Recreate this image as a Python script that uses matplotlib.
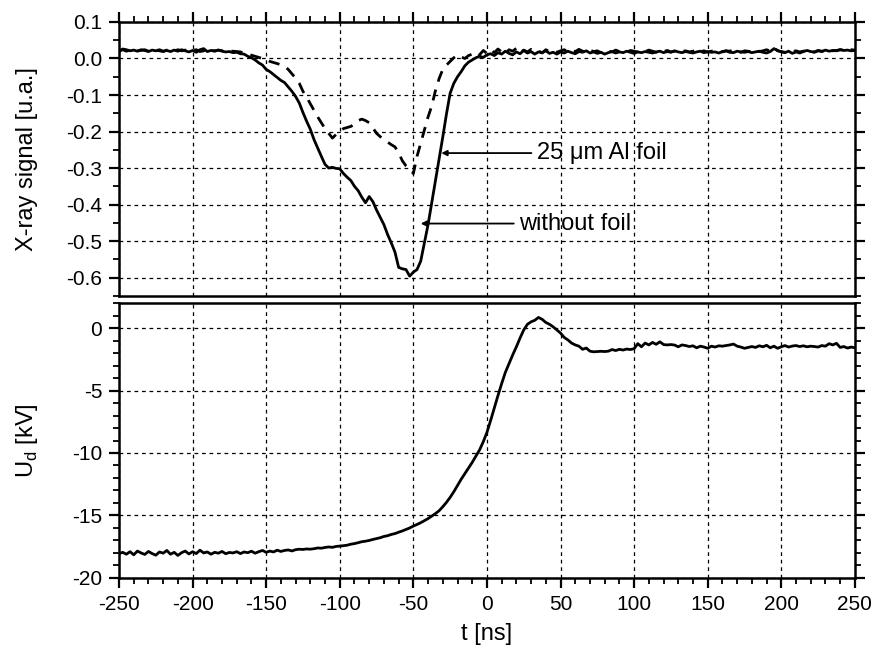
import numpy as np
import matplotlib
matplotlib.use('Agg')
import matplotlib.pyplot as plt
from matplotlib.ticker import MultipleLocator

plt.rcParams['font.family'] = ['Liberation Sans', 'DejaVu Sans']
plt.rcParams['mathtext.fontset'] = 'custom'
plt.rcParams['mathtext.rm'] = 'Liberation Sans'
plt.rcParams['axes.unicode_minus'] = False

t = np.arange(-250, 250.01, 2.5)

# X-ray signal without foil [u.a.]
xray_nofoil = [
    0.018, 0.026, 0.024, 0.021, 0.023, 0.020, 0.024, 0.022, 0.019, 0.023,
    0.021, 0.024, 0.020, 0.022, 0.019, 0.023, 0.020, 0.024, 0.021, 0.018,
    0.022, 0.017, 0.024, 0.027, 0.019, 0.022, 0.021, 0.023, 0.020, 0.018,
    0.019,
    0.016, 0.017, 0.013, 0.012, 0.006, 0.002, -0.004, -0.012, -0.018, -0.030,
    -0.036, -0.044, -0.052, -0.060, -0.066, -0.078, -0.090, -0.104, -0.122, -0.148,
    -0.172, -0.194, -0.222, -0.245, -0.268, -0.290, -0.300, -0.298, -0.301, -0.302,
    -0.315, -0.325, -0.334, -0.350, -0.362, -0.380, -0.395, -0.378, -0.392, -0.415,
    -0.435, -0.455, -0.482, -0.505, -0.530, -0.572, -0.576, -0.578, -0.596, -0.585,
    -0.578, -0.555, -0.505, -0.455, -0.395, -0.335, -0.275, -0.215, -0.152, -0.095,
    -0.068, -0.050, -0.036, -0.020, -0.010, -0.004, 0.002, 0.006, 0.003, 0.010,
    0.013, 0.008, 0.016, 0.012, 0.020, 0.014, 0.010, 0.018, 0.013, 0.022,
    0.015, 0.019, 0.012, 0.018, 0.016, 0.021, 0.014, 0.017, 0.012, 0.018,
    0.015, 0.020, 0.016, 0.013, 0.019, 0.017, 0.021, 0.015, 0.018, 0.014,
    0.017, 0.012, 0.016, 0.019, 0.015, 0.018, 0.016, 0.020, 0.017, 0.014,
    0.018, 0.016, 0.019, 0.017, 0.015, 0.018, 0.020, 0.016, 0.019, 0.017,
    0.021, 0.018, 0.016, 0.019, 0.017, 0.015, 0.018, 0.020, 0.016, 0.019,
    0.017, 0.018, 0.015, 0.019, 0.021, 0.017, 0.016, 0.020, 0.018, 0.017,
    0.019, 0.016, 0.018, 0.020, 0.017, 0.015, 0.019, 0.027, 0.022, 0.018,
    0.016, 0.020, 0.014, 0.018, 0.015, 0.019, 0.022, 0.019, 0.017, 0.021,
    0.019, 0.023, 0.020, 0.022, 0.021, 0.024, 0.022, 0.023, 0.021, 0.022,
]

# X-ray signal behind 25 um Al foil [u.a.]
xray_foil = [
    0.022, 0.024, 0.020, 0.023, 0.025, 0.021, 0.022, 0.024, 0.020, 0.022,
    0.023, 0.021, 0.019, 0.023, 0.022, 0.020, 0.024, 0.021, 0.023, 0.020,
    0.022, 0.024, 0.019, 0.021, 0.026, 0.022, 0.020, 0.023, 0.021, 0.022,
    0.020,
    0.020, 0.019, 0.018, 0.015, 0.012, 0.009, 0.006, 0.003, 0.000, -0.004,
    -0.008, -0.011, -0.014, -0.017, -0.021, -0.030, -0.042, -0.054, -0.068, -0.090,
    -0.106, -0.124, -0.142, -0.160, -0.176, -0.192, -0.205, -0.218, -0.208, -0.198,
    -0.192, -0.189, -0.186, -0.180, -0.170, -0.166, -0.170, -0.176, -0.190, -0.205,
    -0.214, -0.222, -0.229, -0.236, -0.242, -0.258, -0.280, -0.294, -0.303, -0.315,
    -0.268, -0.232, -0.196, -0.160, -0.130, -0.088, -0.055, -0.030, -0.018, -0.008,
    0.002, 0.010, 0.004, 0.000, 0.008, 0.012, 0.018, 0.010, 0.022, 0.014,
    0.024, 0.016, 0.026, 0.018, 0.012, 0.024, 0.020, 0.028, 0.016, 0.023,
    0.018, 0.025, 0.019, 0.021, 0.015, 0.024, 0.019, 0.022, 0.017, 0.021,
    0.024, 0.018, 0.022, 0.019, 0.025, 0.020, 0.017, 0.023, 0.019, 0.021,
    0.016, 0.022, 0.020, 0.018, 0.023, 0.019, 0.021, 0.017, 0.022, 0.020,
    0.018, 0.021, 0.019, 0.023, 0.020, 0.017, 0.021, 0.019, 0.022, 0.018,
    0.020, 0.022, 0.019, 0.021, 0.018, 0.020, 0.023, 0.019, 0.021, 0.017,
    0.020, 0.022, 0.019, 0.018, 0.021, 0.020, 0.023, 0.019, 0.017, 0.021,
    0.020, 0.018, 0.022, 0.019, 0.021, 0.024, 0.020, 0.029, 0.021, 0.019,
    0.017, 0.015, 0.019, 0.021, 0.018, 0.020, 0.023, 0.020, 0.018, 0.022,
    0.020, 0.021, 0.023, 0.021, 0.022, 0.024, 0.023, 0.022, 0.024, 0.023,
]

# discharge voltage U_d [kV]
u_d = [
    -18.05, -17.95, -18.10, -17.90, -18.15, -17.85, -18.00, -18.12, -17.88, -18.05,
    -18.18, -17.92, -18.02, -17.80, -18.10, -17.95, -18.20, -17.98, -17.85, -18.08,
    -17.90, -18.05, -17.78, -18.00, -17.92, -18.10, -17.95, -18.02, -17.88, -18.06,
    -17.96,
    -18.00, -17.90, -18.05, -17.92, -17.98, -17.86, -18.02, -17.90, -17.80, -17.95,
    -17.85, -17.92, -17.78, -17.88, -17.80, -17.76, -17.84, -17.74, -17.70, -17.72,
    -17.68, -17.70, -17.66, -17.60, -17.62, -17.56, -17.52, -17.55, -17.48, -17.45,
    -17.42, -17.38, -17.30, -17.25, -17.18, -17.10, -17.06, -17.00, -16.92, -16.85,
    -16.78, -16.68, -16.62, -16.52, -16.45, -16.34, -16.24, -16.12, -16.00, -15.85,
    -15.72, -15.58, -15.42, -15.25, -15.05, -14.85, -14.62, -14.30, -13.95, -13.55,
    -13.10, -12.60, -12.10, -11.65, -11.20, -10.75, -10.25, -9.75, -9.10, -8.35,
    -7.40, -6.40, -5.40, -4.45, -3.55, -2.85, -2.15, -1.50, -0.80, -0.15,
    0.30, 0.50, 0.62, 0.85, 0.70, 0.45, 0.30, 0.10, -0.15, -0.40,
    -0.75, -0.95, -1.20, -1.35, -1.45, -1.70, -1.60, -1.85, -1.90, -1.88,
    -1.86, -1.88, -1.85, -1.72, -1.80, -1.70, -1.76, -1.68, -1.72, -1.65,
    -1.25, -1.50, -1.20, -1.35, -1.15, -1.30, -1.10, -1.32, -1.35, -1.32,
    -1.36, -1.50, -1.35, -1.40, -1.48, -1.42, -1.58, -1.45, -1.52, -1.62,
    -1.45, -1.52, -1.42, -1.45, -1.40, -1.35, -1.28, -1.45, -1.52, -1.62,
    -1.55, -1.48, -1.55, -1.42, -1.50, -1.38, -1.58, -1.45, -1.62, -1.50,
    -1.40, -1.52, -1.44, -1.40, -1.48, -1.42, -1.50, -1.45, -1.48, -1.52,
    -1.40, -1.45, -1.25, -1.35, -1.22, -1.55, -1.48, -1.60, -1.52, -1.58,
]

fig = plt.figure(figsize=(8.75, 6.56), dpi=100)
ax1 = fig.add_axes([0.136, 0.549, 0.841, 0.4175])
ax2 = fig.add_axes([0.136, 0.119, 0.841, 0.419], sharex=ax1)

grid_kw = dict(color='black', linestyle=(0, (3, 3)), linewidth=0.9)

# top panel: X-ray signal
ax1.plot(t, xray_nofoil, color='black', linewidth=2.0)
ax1.plot(t, xray_foil, color='black', linewidth=2.0, linestyle=(0, (4, 3)))
ax1.set_ylim(-0.65, 0.1)
ax1.yaxis.set_minor_locator(MultipleLocator(0.05))
ax1.set_yticks(np.arange(-0.6, 0.11, 0.1))
ax1.set_yticklabels(['-0.6', '-0.5', '-0.4', '-0.3', '-0.2', '-0.1', '0.0', '0.1'])
ax1.set_ylabel('X-ray signal [u.a.]', fontsize=17)
ax1.yaxis.set_label_coords(-0.11, 0.5)
ax1.tick_params(axis='x', which='both', bottom=False, top=True, labelbottom=False,
                direction='out')
ax1.tick_params(axis='y', which='both', left=True, right=True, direction='out')

ax1.annotate('25 μm Al foil', xy=(-31, -0.259), xytext=(34, -0.259),
             fontsize=17, va='center',
             arrowprops=dict(arrowstyle='-|>', color='black', lw=1.3,
                             mutation_scale=8, shrinkA=2, shrinkB=0))
ax1.annotate('without foil', xy=(-45, -0.452), xytext=(22, -0.452),
             fontsize=17, va='center',
             arrowprops=dict(arrowstyle='-|>', color='black', lw=1.3,
                             mutation_scale=8, shrinkA=2, shrinkB=0))

# bottom panel: voltage
ax2.plot(t, u_d, color='black', linewidth=2.0)
ax2.set_ylim(-20, 2)
ax2.yaxis.set_major_locator(MultipleLocator(5))
ax2.yaxis.set_minor_locator(MultipleLocator(1))
ax2.set_ylabel('U$_\\mathrm{d}$ [kV]', fontsize=17)
ax2.yaxis.set_label_coords(-0.108, 0.5)
ax2.set_xlabel('t [ns]', fontsize=17, labelpad=7)
ax2.tick_params(axis='x', which='both', bottom=True, top=False, direction='out')
ax2.tick_params(axis='y', which='both', left=True, right=True, direction='out')

ax2.set_xlim(-250, 250)
ax2.xaxis.set_major_locator(MultipleLocator(50))
ax2.xaxis.set_minor_locator(MultipleLocator(10))

for ax in (ax1, ax2):
    ax.grid(True, which='major', **grid_kw)
    ax.set_axisbelow(True)
    for s in ax.spines.values():
        s.set_linewidth(1.8)
    ax.tick_params(which='major', length=7, width=1.6, labelsize=15, pad=5)
    ax.tick_params(which='minor', length=4, width=1.3)

fig.savefig('out.png', dpi=100)
